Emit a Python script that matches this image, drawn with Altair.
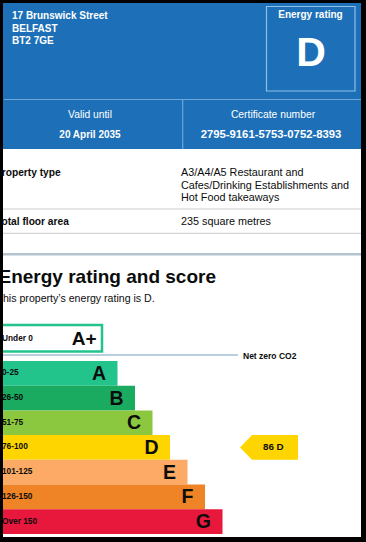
import altair as alt
import pandas as pd

W, H = 366, 542

# ---------------- data ----------------
address_lines = ["17 Brunswick Street", "BELFAST", "BT2 7GE"]
rating_title = "Energy rating"
current_rating = "D"
valid_label = "Valid until"
valid_until = "20 April 2035"
cert_label = "Certificate number"
cert_number = "2795-9161-5753-0752-8393"
row_labels = ["Property type", "Total floor area"]
property_type_lines = ["A3/A4/A5 Restaurant and", "Cafes/Drinking Establishments and", "Hot Food takeaways"]
floor_area = "235 square metres"
section_title = "Energy rating and score"
section_text = "This property\u2019s energy rating is D."
band_letters = ["A+", "A", "B", "C", "D", "E", "F", "G"]
band_ranges = ["Under 0", "0-25", "26-50", "51-75", "76-100", "101-125", "126-150", "Over 150"]
band_colors = ["#ffffff", "#22c48c", "#1aab61", "#8cc83f", "#ffd500", "#fcaa65", "#ef8426", "#e8183d"]
net_zero_label = "Net zero CO2"
score = 86
score_band = "D"

# ---------------- layout ----------------
BLUE = "#1d70b8"
DARK = "#0b0c0c"
FONT = "Liberation Sans"
XS = alt.Scale(domain=[0, W], range=[0, W], nice=False, zero=False)
YS = alt.Scale(domain=[0, H], range=[0, H], nice=False, zero=False)

BAR_TOP, BAR_H = 361.0, 24.7
BAR_R0, BAR_STEP = 117.5, 17.5


def rects(rows, **mk):
    df = pd.DataFrame(rows, columns=["x", "x2", "y", "y2", "c"])
    return alt.Chart(df).mark_rect(**mk).encode(
        x=alt.X("x:Q", scale=XS, axis=None), x2="x2:Q",
        y=alt.Y("y:Q", scale=YS, axis=None), y2="y2:Q",
        color=alt.Color("c:N", scale=None),
    )


def rules(rows):
    df = pd.DataFrame(rows, columns=["x", "x2", "y", "y2", "c", "w"])
    return alt.Chart(df).mark_rule().encode(
        x=alt.X("x:Q", scale=XS, axis=None), x2="x2:Q",
        y=alt.Y("y:Q", scale=YS, axis=None), y2="y2:Q",
        color=alt.Color("c:N", scale=None),
        strokeWidth=alt.StrokeWidth("w:Q", scale=None),
    )


def texts(rows, weight="normal", align="left"):
    df = pd.DataFrame(rows, columns=["x", "y", "t", "s", "c"])
    return alt.Chart(df).mark_text(align=align, baseline="middle", fontWeight=weight, font=FONT).encode(
        x=alt.X("x:Q", scale=XS, axis=None),
        y=alt.Y("y:Q", scale=YS, axis=None),
        text="t:N",
        size=alt.Size("s:Q", scale=None),
        color=alt.Color("c:N", scale=None),
    )


layers = []

# header background
layers.append(rects([[3, 361, 3, 149, BLUE]]))

# lines
layers.append(rules([
    [4, 361, 99.5, 99.5, "#6ea6d9", 1.2],
    [182.7, 182.7, 99.5, 149, "#6ea6d9", 1.2],
    [0, 361, 209, 209, "#c8cccf", 1],
    [0, 361, 233.3, 233.3, "#c8cccf", 1],
    [0, 361, 254.3, 254.3, "#b3c3cf", 2.5],
    [0, 238, 355, 355, "#b9cfe0", 1.8],
]))

# energy rating box outline
layers.append(rects([[266.5, 355, 6.5, 91, "#8fbde6"]], filled=False, strokeWidth=1.2)
              .encode(stroke=alt.Stroke("c:N", scale=None)))

# A+ outlined box
layers.append(rects([[-3, 102, 325, 351.5, band_colors[1]]], filled=False, strokeWidth=2.5)
              .encode(stroke=alt.Stroke("c:N", scale=None)))

# bands A..G
band_rows = []
for i in range(1, len(band_letters)):
    top = BAR_TOP + (i - 1) * BAR_H
    band_rows.append([0, BAR_R0 + (i - 1) * BAR_STEP, top, top + BAR_H, band_colors[i]])
layers.append(rects(band_rows))

# current score arrow
bi = band_letters.index(score_band) - 1
a_top = BAR_TOP + bi * BAR_H
a_bot = a_top + BAR_H
arrow = pd.DataFrame({
    "x": [240, 252, 298],
    "y": [(a_top + a_bot) / 2, a_top, a_top],
    "y2": [(a_top + a_bot) / 2, a_bot, a_bot],
})
layers.append(alt.Chart(arrow).mark_area(color=band_colors[band_letters.index(score_band)], opacity=1).encode(
    x=alt.X("x:Q", scale=XS, axis=None),
    y=alt.Y("y:Q", scale=YS, axis=None), y2="y2:Q"))

# ---- texts ----
WHITE = "#ffffff"
layers.append(texts([[12, 16 + 12.5 * k, s, 10, WHITE] for k, s in enumerate(address_lines)], weight="bold"))
layers.append(texts([
    [310.5, 15, rating_title, 10, WHITE],
    [90, 135, valid_until, 10, WHITE],
    [271, 135, cert_number, 11.3, WHITE],
], weight="bold", align="center"))
layers.append(texts([[311, 54, current_rating, 41, WHITE]], weight="bold", align="center"))
layers.append(texts([
    [90, 115, valid_label, 10.3, WHITE],
    [273, 115, cert_label, 10.3, WHITE],
], align="center"))

# property table
layers.append(texts([
    [-5, 173, row_labels[0], 10.2, DARK],
    [-4, 222, row_labels[1], 10.2, DARK],
], weight="bold"))
val_rows = [[181, 173 + 12.5 * k, s, 10.8, DARK] for k, s in enumerate(property_type_lines)]
val_rows.append([181, 222, floor_area, 10.8, DARK])
layers.append(texts(val_rows))

# section heading
layers.append(texts([[-1.5, 277, section_title, 19, DARK]], weight="bold"))
layers.append(texts([[-3.5, 299, section_text, 10.6, DARK]]))

# band range labels
rng_rows = [[2, 338.5, band_ranges[0], 8.3, DARK]]
for i in range(1, len(band_letters)):
    top = BAR_TOP + (i - 1) * BAR_H
    rng_rows.append([2, top + BAR_H / 2, band_ranges[i], 8.3, DARK])
rng_rows.append([243, 355.5, net_zero_label, 8.5, DARK])
rng_rows.append([263, (a_top + a_bot) / 2, f"{score}  {score_band}", 9.8, DARK])
layers.append(texts(rng_rows, weight="bold"))

# band letters
let_rows = [[96.5, 338.5, band_letters[0], 19, DARK]]
for i in range(1, len(band_letters)):
    top = BAR_TOP + (i - 1) * BAR_H
    let_rows.append([BAR_R0 + (i - 1) * BAR_STEP - 11.5, top + BAR_H / 2 + 0.5, band_letters[i], 19.5, DARK])
layers.append(texts(let_rows, weight="bold", align="right"))

# black frame
layers.append(rects([
    [0, 3, 0, H, "#000000"],
    [361, W, 0, H, "#000000"],
    [0, W, 0, 3, "#000000"],
    [0, W, 537, H, "#000000"],
]))

chart = alt.layer(*layers).properties(
    width=W, height=H,
    autosize=alt.AutoSizeParams(type="none"),
    padding=0,
    background="#ffffff",
).configure_view(strokeWidth=0)

chart.save("out.html", embed_options={"renderer": "svg", "actions": False})
